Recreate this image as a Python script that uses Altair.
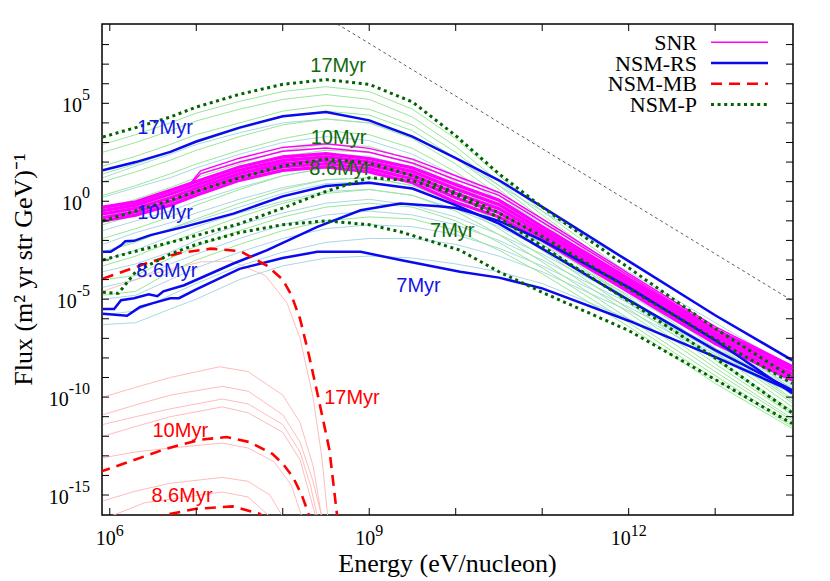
import altair as alt
import pandas as pd

# ---------------- axes (log10 units) ----------------
XMIN, XMAX = 5.91, 13.9
YMIN, YMAX = -16.02, 9.05
W, H = 691, 491
SERIF = "Liberation Serif"
SANS = "Liberation Sans"

X_TICKS = [6, 7, 8, 9, 10, 11, 12, 13]
Y_TICKS = list(range(-15, 9))
X_LABELS = [6, 9, 12]
Y_LABELS = [5, 0, -5, -10, -15]

GRID = [5.92, 6.3, 6.7, 7.0, 7.5, 8.0, 8.5, 9.0, 9.5, 10.0, 10.5, 11.0, 12.0, 13.0, 13.89]

# ---------------- SNR (magenta band) ----------------
SNR_1 = [-0.3, -0.03, 0.56, 1.0, 1.75, 2.26, 2.43, 2.18, 1.7, 0.85, 0.05, -1.3, -3.95, -6.58, -8.45]
SNR_2 = [-0.48, -0.2, 0.37, 0.83, 1.58, 2.09, 2.26, 2.01, 1.51, 0.63, -0.17, -1.48, -4.12, -6.75, -8.62]
SNR_3 = [-0.65, -0.37, 0.18, 0.66, 1.41, 1.92, 2.09, 1.84, 1.33, 0.4, -0.38, -1.65, -4.29, -6.92, -8.79]
SNR_4 = [-0.83, -0.54, -0.01, 0.49, 1.24, 1.75, 1.92, 1.67, 1.14, 0.18, -0.59, -1.83, -4.46, -7.09, -8.96]
SNR_5 = [-1.0, -0.71, -0.2, 0.31, 1.07, 1.58, 1.75, 1.5, 0.95, -0.05, -0.8, -2.0, -4.62, -7.26, -9.13]
SNR_UP_E = [5.92, 6.3, 6.7, 6.93, 7.05, 7.5, 8.0, 8.5, 9.0, 9.5, 10.0, 10.5, 11.0, 12.0, 13.0, 13.89]
SNR_6 = [-0.3, -0.03, 0.56, 0.9, 1.55, 2.2, 2.75, 2.94, 2.7, 2.15, 1.3, 0.45, -0.9, -3.7, -6.4, -8.4]
SNR_7 = [-0.35, -0.08, 0.5, 0.85, 1.4, 2.0, 2.55, 2.72, 2.5, 1.95, 1.1, 0.3, -1.05, -3.8, -6.5, -8.45]

# ---------------- NSM-RS (blue) ----------------
RS17_E = GRID
RS17_F = [1.58, 2.0, 2.52, 3.05, 3.76, 4.34, 4.56, 4.13, 3.3, 2.2, 1.07, -0.29, -3.06, -5.82, -8.11]
RS10_E = [5.92, 6.01, 6.13, 6.18, 6.28, 6.47, 6.86, 7.43, 8.0, 8.5, 9.0, 9.5, 10.0, 10.5, 11.0, 12.0, 13.0, 13.89]
RS10_F = [-2.58, -2.58, -2.25, -2.04, -2.02, -1.73, -1.31, -0.63, 0.25, 0.78, 0.95, 0.65, -0.2, -1.14, -2.42, -5.05, -7.6, -9.64]
RS86_E = [5.92, 6.05, 6.13, 6.28, 6.45, 6.55, 6.62, 6.86, 7.43, 7.82, 8.4, 8.9, 9.36, 9.8, 10.0, 10.5, 11.0, 12.0, 13.0, 13.89]
RS86_F = [-5.5, -5.5, -5.05, -4.95, -4.75, -4.85, -4.6, -4.29, -3.18, -2.5, -1.31, -0.46, -0.12, -0.25, -0.35, -1.0, -2.0, -4.4, -7.1, -9.8]
RS7_E = [5.92, 6.2, 6.35, 6.5, 6.7, 6.8, 7.0, 7.5, 8.0, 8.4, 8.9, 9.36, 10.05, 10.5, 11.0, 12.0, 13.0, 13.89]
RS7_F = [-5.75, -5.85, -5.4, -5.2, -4.95, -4.95, -4.5, -3.45, -2.9, -2.58, -2.58, -3.0, -3.6, -3.9, -4.45, -6.1, -7.95, -9.7]

# thin light-blue NSM-RS curves (on GRID)
LB = [
    [1.2, 1.8, 2.4, 2.9, 3.5, 4.0, 4.2, 4.0, 3.3, 2.2, 0.8, -0.5, -3.1, -5.8, -8.2],
    [0.2, 0.7, 1.2, 1.7, 2.4, 3.0, 3.3, 3.1, 2.4, 1.3, 0.1, -1.1, -3.6, -6.2, -8.5],
    [-0.8, -0.4, 0.2, 0.7, 1.4, 2.0, 2.4, 2.3, 1.7, 0.8, -0.3, -1.5, -4.0, -6.6, -8.8],
    [-1.5, -1.0, -0.5, 0.0, 0.7, 1.3, 1.7, 1.7, 1.2, 0.4, -0.6, -1.8, -4.3, -6.9, -9.0],
    [-2.2, -1.6, -1.1, -0.6, 0.1, 0.7, 1.1, 1.2, 0.8, 0.0, -1.0, -2.1, -4.5, -7.1, -9.2],
    [-2.6, -2.0, -1.4, -1.0, -0.3, 0.4, 0.9, 1.0, 0.6, -0.2, -1.1, -2.2, -4.6, -7.2, -9.3],
    [-3.0, -2.5, -1.8, -1.3, -0.6, 0.0, 0.5, 0.6, 0.3, -0.4, -1.3, -2.4, -4.8, -7.3, -9.4],
    [-3.6, -3.2, -2.6, -2.0, -1.2, -0.6, -0.1, 0.1, -0.2, -0.8, -1.7, -2.7, -5.0, -7.5, -9.5],
    [-4.4, -4.0, -3.2, -2.7, -1.9, -1.2, -0.7, -0.5, -0.7, -1.2, -2.0, -3.0, -5.2, -7.7, -9.6],
    [-5.0, -4.8, -4.0, -3.4, -2.6, -1.9, -1.4, -1.2, -1.3, -1.7, -2.4, -3.3, -5.4, -7.8, -9.7],
    [-5.8, -5.6, -4.8, -4.2, -3.3, -2.6, -2.1, -1.9, -1.9, -2.2, -2.8, -3.6, -5.6, -7.9, -9.8],
    [-6.3, -6.2, -5.5, -5.0, -4.0, -3.3, -2.9, -2.8, -2.9, -3.2, -3.6, -4.2, -6.0, -8.0, -9.8],
]

# ---------------- NSM-P (green) ----------------
P17_E = GRID
P17_F = [3.28, 3.76, 4.3, 4.81, 5.46, 5.97, 6.21, 5.97, 5.07, 3.35, 1.4, -0.3, -3.4, -6.5, -9.0]
P10_E = GRID
P10_F = [-1.0, -0.5, 0.05, 0.5, 1.2, 1.8, 2.15, 1.95, 1.3, 0.45, -0.6, -1.8, -4.45, -7.05, -9.3]
P86_E = GRID
P86_F = [-3.0, -2.55, -2.1, -1.75, -1.15, -0.35, 0.5, 1.2, 1.05, 0.35, -0.85, -2.3, -5.1, -8.0, -10.8]
P7_E = [5.92, 6.1, 6.3, 6.7, 7.0, 7.5, 8.0, 8.5, 9.0, 9.36, 10.05, 10.5, 11.0, 12.0, 13.0, 13.89]
P7_F = [-4.65, -4.7, -3.6, -2.7, -2.2, -1.6, -1.2, -1.0, -1.2, -1.56, -2.5, -3.6, -4.65, -6.6, -9.1, -11.35]

# thin light-green NSM-P curves (on GRID)
LG = [
    [2.9, 3.4, 4.0, 4.5, 5.1, 5.6, 5.85, 5.6, 4.7, 3.2, 1.3, -0.5, -3.7, -6.8, -9.6],
    [2.5, 3.0, 3.6, 4.1, 4.7, 5.2, 5.45, 5.2, 4.3, 2.8, 1.0, -0.7, -3.9, -7.0, -9.9],
    [1.8, 2.3, 2.9, 3.4, 4.0, 4.6, 4.9, 4.7, 3.9, 2.5, 0.8, -0.9, -4.1, -7.2, -10.1],
    [1.4, 1.9, 2.5, 3.0, 3.7, 4.3, 4.6, 4.4, 3.6, 2.2, 0.6, -1.1, -4.2, -7.3, -10.2],
    [1.0, 1.5, 2.1, 2.6, 3.3, 3.9, 4.2, 4.0, 3.2, 1.9, 0.3, -1.3, -4.4, -7.5, -10.3],
    [0.3, 0.8, 1.4, 1.9, 2.6, 3.2, 3.6, 3.4, 2.7, 1.5, 0.0, -1.6, -4.6, -7.7, -10.5],
    [-0.4, 0.1, 0.7, 1.2, 1.9, 2.6, 2.9, 2.8, 2.1, 1.0, -0.4, -1.9, -4.9, -8.0, -10.7],
    [-0.8, -0.3, 0.3, 0.8, 1.6, 2.3, 2.6, 2.5, 1.9, 0.8, -0.6, -2.0, -5.0, -8.1, -10.8],
    [-1.2, -0.7, -0.1, 0.5, 1.2, 1.9, 2.3, 2.2, 1.6, 0.6, -0.8, -2.2, -5.2, -8.3, -10.9],
    [-1.9, -1.4, -0.8, -0.2, 0.6, 1.3, 1.7, 1.7, 1.2, 0.2, -1.1, -2.5, -5.5, -8.5, -11.1],
    [-2.6, -2.1, -1.4, -0.9, -0.1, 0.6, 1.1, 1.2, 0.8, -0.1, -1.4, -2.8, -5.7, -8.7, -11.2],
    [-3.3, -2.8, -2.1, -1.6, -0.8, -0.1, 0.4, 0.6, 0.3, -0.5, -1.7, -3.1, -6.0, -8.9, -11.4],
    [-4.0, -3.8, -2.9, -2.3, -1.5, -0.8, -0.3, -0.1, -0.3, -1.0, -2.1, -3.4, -6.2, -9.1, -11.5],
    [-4.8, -4.6, -3.6, -3.0, -2.2, -1.5, -1.0, -0.8, -0.9, -1.5, -2.5, -3.7, -6.4, -9.3, -11.6],
]

# ---------------- NSM-MB (red) ----------------
MB17_E = [5.92, 6.47, 6.8, 7.17, 7.51, 7.82, 8.0, 8.1, 8.2, 8.3, 8.42, 8.54, 8.63]
MB17_F = [-3.95, -3.1, -2.65, -2.42, -2.55, -3.3, -4.0, -4.8, -6.0, -7.8, -10.2, -12.7, -16.1]
MB10_E = [5.88, 6.27, 6.65, 7.04, 7.35, 7.62, 7.88, 8.0, 8.12, 8.22, 8.31]
MB10_F = [-13.83, -13.23, -12.64, -12.18, -12.04, -12.3, -12.9, -13.4, -14.1, -15.0, -16.1]
MB86_E = [6.3, 6.6, 7.0, 7.42, 7.73, 7.95]
MB86_F = [-16.6, -16.05, -15.7, -15.58, -15.95, -16.8]

# thin pink NSM-MB curves: (energies, fluxes)
PINK = [
    ([5.92, 6.5, 7.05, 7.4, 7.8, 8.05, 8.2, 8.35, 8.45, 8.52], [-4.6, -3.7, -3.1, -3.05, -3.8, -5.2, -7.0, -10.0, -13.0, -16.1]),
    ([5.92, 6.3, 6.7, 7.27, 7.6, 8.0, 8.2, 8.35, 8.45], [-10.0, -9.5, -9.0, -8.45, -8.7, -9.9, -11.3, -13.5, -16.1]),
    ([5.92, 6.3, 6.7, 7.3, 7.6, 8.0, 8.2, 8.35, 8.45], [-10.9, -10.4, -9.9, -9.45, -9.7, -10.9, -12.3, -14.3, -16.1]),
    ([5.92, 6.3, 6.7, 7.3, 7.6, 8.0, 8.2, 8.32, 8.4], [-11.4, -11.0, -10.6, -10.1, -10.35, -11.4, -12.8, -14.5, -16.1]),
    ([5.92, 6.3, 6.7, 7.3, 7.6, 8.0, 8.2, 8.3, 8.38], [-12.0, -11.5, -11.0, -10.5, -10.8, -11.8, -13.2, -14.8, -16.1]),
    ([5.92, 6.3, 6.7, 7.3, 7.6, 7.9, 8.1, 8.22], [-13.1, -12.8, -12.6, -12.35, -12.6, -13.3, -14.5, -16.1]),
    ([5.92, 6.3, 6.7, 7.3, 7.6, 7.85, 8.0], [-15.3, -14.8, -14.4, -14.1, -14.3, -15.0, -16.1]),
    ([6.0, 6.4, 7.3, 7.6, 7.85], [-16.1, -15.4, -14.85, -15.1, -16.1]),
]

# reference power law (thin dashed)
REF_E = [8.63, 13.9]
REF_F = [9.05, -5.1]

# curve labels
GREEN_LAB = [("17Myr", 8.64, 6.96), ("10Myr", 8.645, 3.26), ("8.6Myr", 8.66, 1.71), ("7Myr", 9.96, -1.47)]
BLUE_LAB = [("17Myr", 6.64, 3.77), ("10Myr", 6.64, -0.53), ("8.6Myr", 6.66, -3.51), ("7Myr", 9.57, -4.28)]
RED_LAB = [("17Myr", 8.80, -9.98), ("10Myr", 6.815, -11.68), ("8.6Myr", 6.835, -15.0)]

LEGEND = ["SNR", "NSM-RS", "NSM-MB", "NSM-P"]

# ---------------- build ----------------
xs = alt.Scale(domain=[XMIN, XMAX], nice=False, zero=False)
ys = alt.Scale(domain=[YMIN, YMAX], nice=False, zero=False)


def ex():
    return alt.X("e:Q", scale=xs, axis=None)


def ey():
    return alt.Y("f:Q", scale=ys, axis=None)


def frame(series):
    rows = []
    for name, es, fs in series:
        for i, (e, f) in enumerate(zip(es, fs)):
            rows.append({"name": name, "e": e, "f": f, "o": i})
    return pd.DataFrame(rows)


def lines(series, **style):
    return alt.Chart(frame(series)).mark_line(clip=True, **style).encode(
        x=ex(), y=ey(), detail="name:N", order="o:Q")


layers = []
layers.append(lines([(f"pk{i}", e, f) for i, (e, f) in enumerate(PINK)], color="#ffbcbc", strokeWidth=1))
layers.append(lines([(f"lb{i}", GRID, f) for i, f in enumerate(LB)], color="#a9d8e6", strokeWidth=1))
layers.append(lines([(f"lg{i}", GRID, f) for i, f in enumerate(LG)], color="#98e898", strokeWidth=1))
layers.append(lines([("ref", REF_E, REF_F)], color="#333333", strokeWidth=0.8, strokeDash=[3, 3]))
layers.append(lines([("s1", GRID, SNR_1), ("s2", GRID, SNR_2), ("s3", GRID, SNR_3),
                     ("s4", GRID, SNR_4), ("s5", GRID, SNR_5)], color="#ff00ff", strokeWidth=3.3))
layers.append(lines([("s6", SNR_UP_E, SNR_6), ("s7", SNR_UP_E, SNR_7)], color="#ff00ff", strokeWidth=1.5))
layers.append(lines([("rs17", RS17_E, RS17_F), ("rs10", RS10_E, RS10_F),
                     ("rs86", RS86_E, RS86_F), ("rs7", RS7_E, RS7_F)], color="#0a0aee", strokeWidth=2.5))
layers.append(lines([("mb17", MB17_E, MB17_F), ("mb10", MB10_E, MB10_F), ("mb86", MB86_E, MB86_F)],
                    color="#ff0000", strokeWidth=2.6, strokeDash=[11, 7]))
layers.append(lines([("p17", P17_E, P17_F), ("p10", P10_E, P10_F),
                     ("p86", P86_E, P86_F), ("p7", P7_E, P7_F)], color="#006400", strokeWidth=3, strokeDash=[3, 3.6]))

# curve labels
for labs, col in [(GREEN_LAB, "#0f6a0f"), (BLUE_LAB, "#1414e6"), (RED_LAB, "#ff0000")]:
    d = pd.DataFrame({"t": [l[0] for l in labs], "e": [l[1] for l in labs], "f": [l[2] for l in labs]})
    layers.append(alt.Chart(d).mark_text(font=SANS, fontSize=20, color=col, align="center",
                                         baseline="alphabetic", dy=7).encode(x=ex(), y=ey(), text="t:N"))

# inward ticks on all four sides
xt = pd.DataFrame({"e": X_TICKS})
yt = pd.DataFrame({"f": Y_TICKS})
layers.append(alt.Chart(xt).mark_rule(color="black", strokeWidth=1).encode(x=ex(), y=alt.value(H), y2=alt.value(H - 7)))
layers.append(alt.Chart(xt).mark_rule(color="black", strokeWidth=1).encode(x=ex(), y=alt.value(0), y2=alt.value(7)))
layers.append(alt.Chart(yt).mark_rule(color="black", strokeWidth=1).encode(y=ey(), x=alt.value(0), x2=alt.value(7)))
layers.append(alt.Chart(yt).mark_rule(color="black", strokeWidth=1).encode(y=ey(), x=alt.value(W), x2=alt.value(W - 7)))


def sup_width(s):
    return sum(5.3 if c == "-" else 8.0 for c in s)


# tick labels: "10" plus raised exponent
for v in X_LABELS:
    s = str(v)
    split = (20 - sup_width(s)) / 2
    d = pd.DataFrame({"e": [v], "b": ["10"], "s": [s]})
    layers.append(alt.Chart(d).mark_text(font=SERIF, fontSize=20, align="right", baseline="alphabetic",
                                         dx=split, color="black").encode(x=ex(), y=alt.value(H + 30), text="b:N"))
    layers.append(alt.Chart(d).mark_text(font=SERIF, fontSize=16, align="left", baseline="alphabetic",
                                         dx=split, color="black").encode(x=ex(), y=alt.value(H + 21), text="s:N"))
for v in Y_LABELS:
    s = str(v)
    d = pd.DataFrame({"f": [v], "b": ["10"], "s": [s]})
    layers.append(alt.Chart(d).mark_text(font=SERIF, fontSize=20, align="right", baseline="alphabetic",
                                         dy=9, color="black").encode(x=alt.value(-12 - sup_width(s)), y=ey(), text="b:N"))
    layers.append(alt.Chart(d).mark_text(font=SERIF, fontSize=16, align="right", baseline="alphabetic",
                                         dy=-3, color="black").encode(x=alt.value(-12), y=ey(), text="s:N"))

# axis titles
layers.append(alt.Chart(pd.DataFrame({"t": ["Energy (eV/nucleon)"]})).mark_text(
    font=SERIF, fontSize=26, align="center", baseline="alphabetic", color="black").encode(
    x=alt.value(W / 2), y=alt.value(H + 57), text="t:N"))
layers.append(alt.Chart(pd.DataFrame({"t": ["Flux (m\u00b2 yr str GeV)\u207b\u00b9"]})).mark_text(
    font=SERIF, fontSize=26, align="center", baseline="alphabetic", angle=270, color="black").encode(
    x=alt.value(-70), y=alt.value(H / 2), text="t:N"))

# legend
leg_styles = [
    dict(color="#ff00ff", strokeWidth=1.5),
    dict(color="#0a0aee", strokeWidth=2.5),
    dict(color="#ff0000", strokeWidth=2.6, strokeDash=[11, 7]),
    dict(color="#006400", strokeWidth=3, strokeDash=[3, 3.6]),
]
for i, (name, st) in enumerate(zip(LEGEND, leg_styles)):
    yy = 18.3 + i * 20.7
    d = pd.DataFrame({"t": [name]})
    layers.append(alt.Chart(d).mark_text(font=SERIF, fontSize=22, align="right", baseline="alphabetic",
                                         color="black").encode(x=alt.value(595), y=alt.value(yy + 7.5), text="t:N"))
    layers.append(alt.Chart(d).mark_rule(**st).encode(x=alt.value(609), x2=alt.value(666), y=alt.value(yy)))

chart = alt.layer(*layers).properties(
    width=W, height=H, autosize="none",
    padding={"left": 94, "top": 16, "right": 29, "bottom": 66},
    background="white",
).configure_view(stroke="black", strokeWidth=1.5)

chart.save("out.html", embed_options={"renderer": "svg", "actions": False})
